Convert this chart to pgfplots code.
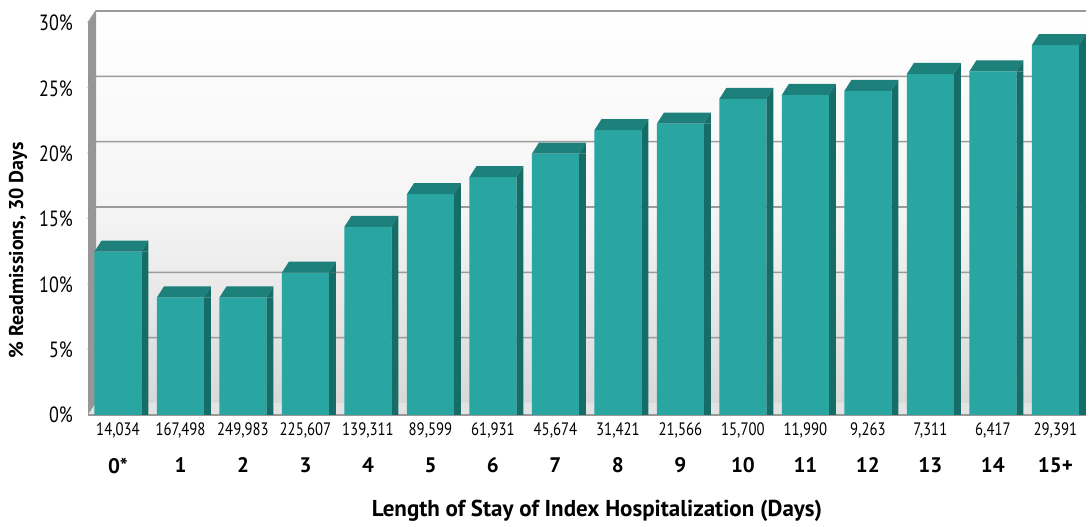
\documentclass[border=0pt]{standalone}
\usepackage{pgfplots}
\pgfplotsset{compat=1.18}
\usepackage{fontspec}
\setmainfont{PT Sans}
\newfontfamily\cntfont{PT Sans}[FakeStretch=0.82]

\definecolor{barfront}{RGB}{41,166,162}
\definecolor{bartopc}{RGB}{30,128,122}
\definecolor{barside}{RGB}{22,108,103}
\definecolor{gridc}{RGB}{155,155,155}
\definecolor{wallside}{RGB}{150,150,150}

% top face and upper corner of the side face of a 3D-looking bar
\pgfdeclareplotmark{bartop}{%
  \pgfpathmoveto{\pgfpoint{-23.5bp}{0bp}}%
  \pgfpathlineto{\pgfpoint{23.5bp}{0bp}}%
  \pgfpathlineto{\pgfpoint{30.5bp}{11bp}}%
  \pgfpathlineto{\pgfpoint{-16.5bp}{11bp}}%
  \pgfpathclose
  \pgfsetfillcolor{bartopc}\pgfusepath{fill}%
  \pgfpathmoveto{\pgfpoint{23.5bp}{0bp}}%
  \pgfpathlineto{\pgfpoint{30.5bp}{11bp}}%
  \pgfpathlineto{\pgfpoint{30.5bp}{0bp}}%
  \pgfpathclose
  \pgfsetfillcolor{barside}\pgfusepath{fill}%
}

\newcommand{\tl}[2]{{\cntfont\fontsize{18bp}{20bp}\selectfont #1}\\[19bp]{\bfseries\fontsize{21bp}{23bp}\selectfont #2}}

\pgfplotstableread{
x  y
0  12.5
1  9.0
2  9.0
3  10.9
4  14.4
5  16.9
6  18.2
7  20.0
8  21.8
9  22.3
10 24.2
11 24.5
12 24.8
13 26.1
14 26.3
15 28.3
}\readm

\begin{document}
\begin{tikzpicture}
\useasboundingbox (0,0) rectangle (1089bp,527bp);
\begin{axis}[
  at={(88bp,112bp)}, anchor=south west,
  scale only axis, width=998bp, height=392bp,
  xmin=-0.48, xmax=15.49, ymin=0, ymax=30,
  clip=false,
  axis line style={draw=none},
  major tick length=0pt,
  ytick={0,5,...,30},
  yticklabel={\pgfmathprintnumber{\tick}\%},
  /pgf/number format/assume math mode=true,
  yticklabel style={font=\cntfont\fontsize{22bp}{24bp}\selectfont, anchor=east, inner sep=0pt, xshift=-15bp},
  xtick={0,...,15},
  xticklabels={
    {\tl{14,034}{0*}},{\tl{167,498}{1}},{\tl{249,983}{2}},{\tl{225,607}{3}},
    {\tl{139,311}{4}},{\tl{89,599}{5}},{\tl{61,931}{6}},{\tl{45,674}{7}},
    {\tl{31,421}{8}},{\tl{21,566}{9}},{\tl{15,700}{10}},{\tl{11,990}{11}},
    {\tl{9,263}{12}},{\tl{7,311}{13}},{\tl{6,417}{14}},{\tl{29,391}{15+}}},
  xticklabel style={align=center, anchor=north, inner sep=0pt, yshift=-7bp},
  xlabel={Length of Stay of Index Hospitalization (Days)},
  xlabel style={font=\bfseries\fontsize{23bp}{25bp}\selectfont, at={(axis description cs:0.51,-0.245)}, anchor=center},
  ylabel={\% Readmissions, 30 Days},
  ylabel style={font=\bfseries\fontsize{20bp}{22bp}\selectfont, at={(axis description cs:-0.0701,0.42)}, anchor=center},
]
% back wall
\shade[top color=white, bottom color=black!15, middle color=black!4]
  ([xshift=8bp,yshift=12bp]axis cs:-0.48,0) rectangle ([yshift=12bp]axis cs:15.49,30);
% left wall
\fill[wallside]
  (axis cs:-0.48,0) -- ([xshift=8bp,yshift=12bp]axis cs:-0.48,0)
  -- ([xshift=8bp,yshift=12bp]axis cs:-0.48,30) -- (axis cs:-0.48,30) -- cycle;
% floor
\fill[black!11]
  (axis cs:-0.48,0) -- (axis cs:15.49,0) -- ([yshift=12bp]axis cs:15.49,0)
  -- ([xshift=8bp,yshift=12bp]axis cs:-0.48,0) -- cycle;
\draw[black!40, line width=1.5bp] (axis cs:-0.48,0) -- (axis cs:15.49,0);
% grid lines on the back wall
\pgfplotsinvokeforeach{5,10,...,30}{
  \draw[gridc, line width=1.6bp]
    (axis cs:-0.48,#1) -- ([xshift=8bp,yshift=12bp]axis cs:-0.48,#1) -- ([yshift=12bp]axis cs:15.49,#1);
}
% side faces, front faces, top faces
\addplot[ybar, bar width=7bp, bar shift=27bp, fill=barside, draw=none] table {\readm};
\addplot[ybar, bar width=47bp, bar shift=0bp, fill=barfront, draw=none] table {\readm};
\addplot[only marks, mark=bartop] table {\readm};
\end{axis}
\end{tikzpicture}
\end{document}
